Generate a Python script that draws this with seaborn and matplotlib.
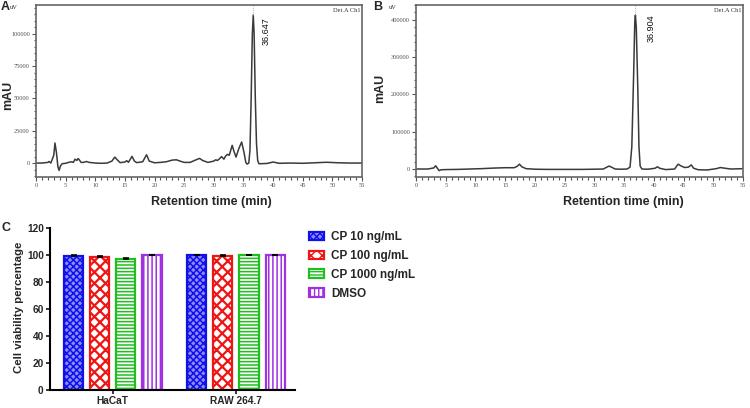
import numpy as np
import pandas as pd
import matplotlib
matplotlib.use("Agg")
import matplotlib.pyplot as plt
import seaborn as sns
from matplotlib.patches import Patch
from matplotlib.ticker import MultipleLocator, FuncFormatter

sns.set_theme(style="ticks")
plt.rcParams['font.family'] = ['Liberation Sans', 'DejaVu Sans']
plt.rcParams['hatch.linewidth'] = 1.0

# ---------------- Panel A chromatogram (uV) ----------------
time_a = [0, 1, 2, 2.2, 2.5, 3.0, 3.2, 3.45, 3.7, 3.9, 4.1, 4.4, 5, 5.5, 6, 6.3, 6.6,
          6.9, 7.1, 7.3, 7.6, 8, 8.5, 9, 10, 11, 12, 12.8, 13.3, 13.7, 14.2, 15, 15.3,
          15.6, 16.2, 16.6, 17, 18, 18.65, 19.1, 20, 21, 22, 23, 23.7, 24.3, 25, 26,
          26.5, 27, 27.6, 28.1, 29, 30, 30.3, 30.6, 31, 31.3, 31.7, 32.0, 32.3, 32.6,
          33.1, 33.4, 33.75, 34.2, 34.7, 35.1, 35.4, 35.6, 35.9, 36.1, 36.3, 36.5,
          36.65, 36.8, 37.0, 37.2, 37.4, 37.6, 38, 39, 40, 41, 43, 45, 47, 49, 51, 53, 55]
signal_a = [0, 0, 500, 1200, 0, 6000, 15500, 8000, -3000, -5700, -2500, -500, -200, 500,
            1000, 500, 3000, 2000, 3500, 2500, 500, 500, 1200, 500, 0, -200, 0, 1500,
            4600, 2500, 300, 800, 1800, 600, 5200, 1500, 300, 1000, 6400, 1500, 200, 500,
            1000, 2300, 2500, 1500, 500, 500, 1500, 2500, 3600, 2000, 500, 1500, 2500,
            2000, 3500, 5000, 3000, 5500, 6700, 6000, 13700, 9000, 4600, 11000, 16300,
            8000, 500, -800, 0, 10000, 50000, 100000, 114500, 100000, 50000, 15000, 2000,
            -500, -500, -300, 800, -200, 0, -200, 200, 600, 200, 0, 0]
peak_time_a = 36.647
peak_height_a = 114500

# ---------------- Panel B chromatogram (uV) ----------------
time_b = [0, 2, 3.0, 3.3, 3.6, 3.9, 4.2, 5, 7, 9, 11, 13, 15, 16.5, 17.0, 17.4, 17.8,
          18.5, 20, 22, 25, 28, 30, 31.5, 32.1, 32.5, 33.0, 33.5, 34.5, 35.5, 36.0, 36.3,
          36.6, 36.8, 36.904, 37.05, 37.3, 37.5, 37.7, 38, 39, 40.2, 40.6, 41.0, 42, 43.5,
          43.9, 44.1, 44.6, 45.2, 45.8, 46.3, 46.7, 47.5, 49, 50.5, 51.2, 52, 53, 55]
signal_b = [0, 0, 3000, 8800, 2000, -4400, -2000, -1500, -1000, 0, 1000, 2500, 3500,
            3500, 7000, 13000, 6000, 1000, -500, -1000, -1000, -1000, -500, 0, 5000, 7900,
            4000, 0, -500, 0, 5000, 60000, 250000, 395000, 413000, 380000, 220000, 60000,
            8000, 0, -500, 2000, 6000, 2000, -1500, 0, 9000, 13000, 8000, 4000, 5000,
            11000, 2000, -2000, -2500, 1000, 4000, 2000, 0, 1000]
peak_time_b = 36.904
peak_height_b = 413000

# ---------------- Panel C bars ----------------
cell_lines = ["HaCaT", "RAW 264.7"]
treatments = ["CP 10 ng/mL", "CP 100 ng/mL", "CP 1000 ng/mL", "DMSO"]
viability_hacat = [99.6, 98.6, 97.4, 100.0]
viability_raw = [100.0, 99.4, 100.0, 100.0]
error_hacat = [0.3, 0.5, 0.4, 0.3]
error_raw = [0.3, 0.3, 0.3, 0.3]

edge_colors = ["#1010e8", "#ee1515", "#1fbf1f", "#a030e0"]
face_colors = ["#8c8cff", "white", "white", "white"]
hatches = ["xxxxx", "xxx", "-----", "||||"]

fig = plt.figure(figsize=(7.5, 4.08), dpi=100)
W, H = 750, 408


def chrom_axes(ax, t, s, ylim, ymaj, ymin, peak_t, peak_h, ptext, ptext_xy, mau_x, mau_y, xlab_x):
    sns.lineplot(x=t, y=s, ax=ax, color="#3a3a3a", linewidth=1.1, sort=False, estimator=None)
    ax.set_xlim(0, 55)
    ax.set_ylim(*ylim)
    ax.xaxis.set_major_locator(MultipleLocator(5))
    ax.xaxis.set_minor_locator(MultipleLocator(1))
    ax.yaxis.set_major_locator(MultipleLocator(ymaj))
    ax.yaxis.set_minor_locator(MultipleLocator(ymin))
    ax.yaxis.set_major_formatter(FuncFormatter(lambda v, p: f"{v:.0f}"))
    ax.tick_params(which='both', direction='out', colors='#555555', labelsize=4.6,
                   labelfontfamily='Liberation Serif', pad=1.5, width=0.8)
    ax.tick_params(which='major', length=3)
    ax.tick_params(which='minor', length=1.8)
    for sp in ax.spines.values():
        sp.set_color('#666666')
        sp.set_linewidth(1.2)
    ax.set_xlabel("")
    ax.set_ylabel("")
    ax.plot([peak_t, peak_t], [peak_h, ylim[1]], color='#999999', lw=0.6, ls=':')
    ax.text(ptext_xy[0], ptext_xy[1], ptext, rotation=90, ha='center', va='top',
            fontsize=6.5, color='#111111')
    ax.text(0.995, 0.985, "Det.A Ch1", transform=ax.transAxes, ha='right', va='top',
            fontsize=4.6, family='Liberation Serif', color='#333333')
    ax.text(mau_x, mau_y, "mAU", transform=ax.transAxes, rotation=90, ha='center',
            va='center', fontsize=9, fontweight='bold')
    ax.text(xlab_x, -0.11, "Retention time (min)", transform=ax.transAxes, ha='center',
            va='top', fontsize=9, fontweight='bold')


axA = fig.add_axes([36 / W, 1 - 177 / H, (362 - 36) / W, 172 / H])
chrom_axes(axA, time_a, signal_a, (-10800, 122300), 25000, 5000, peak_time_a, peak_height_a,
           "36.647", (38.8, 112500), (8 - 36) / 326, (177 - 95) / 172, (211 - 36) / 326)

axB = fig.add_axes([416 / W, 1 - 177 / H, (743 - 416) / W, 172 / H])
chrom_axes(axB, time_b, signal_b, (-21400, 440000), 100000, 20000, peak_time_b, peak_height_b,
           "36.904", (39.6, 414000), (380 - 416) / 327, (177 - 88) / 172, (623 - 416) / 327)

fig.text(1 / W, 1 - 1 / H, "A", fontsize=9, fontweight='bold', va='top', ha='left')
fig.text(10 / W, 1 - 5 / H, "uV", fontsize=4.6, family='Liberation Serif', va='top', ha='left')
fig.text(373 / W, 1 - 1 / H, "B", fontsize=9, fontweight='bold', va='top', ha='left')
fig.text(389 / W, 1 - 5 / H, "uV", fontsize=4.6, family='Liberation Serif', va='top', ha='left')
fig.text(2 / W, 1 - 222 / H, "C", fontsize=9, fontweight='bold', va='top', ha='left')

# ---------------- Panel C ----------------
df = pd.DataFrame({
    "cell": [c for c in cell_lines for _ in treatments],
    "treatment": treatments * 2,
    "viability": viability_hacat + viability_raw,
    "err": error_hacat + error_raw,
})
axC = fig.add_axes([50 / W, 1 - 390 / H, (295 - 50) / W, 162 / H])
sns.barplot(data=df, x="cell", y="viability", hue="treatment", hue_order=treatments,
            order=cell_lines, palette=edge_colors, width=0.85, gap=0.27, errorbar=None,
            legend=False, ax=axC)
bar_containers = list(axC.containers)
for i, cont in enumerate(bar_containers):
    for j, bar in enumerate(cont.patches):
        bar.set_facecolor(face_colors[i])
        bar.set_edgecolor(edge_colors[i])
        bar.set_hatch(hatches[i])
        bar.set_linewidth(1.6)
        if hasattr(bar, "set_hatch_linewidth"):
            bar.set_hatch_linewidth(1.6 if i == 1 else 1.1)
        sub = df[(df.treatment == treatments[i]) & (df.cell == cell_lines[j])]
        e = float(sub.err.iloc[0])
        axC.errorbar(bar.get_x() + bar.get_width() / 2, bar.get_height(),
                     yerr=[[0], [e]], color='black', capsize=2.5, elinewidth=1.2,
                     capthick=1.2, zorder=5)

axC.set_ylim(0, 120)
axC.set_xlim(-0.51, 1.48)
axC.yaxis.set_major_locator(MultipleLocator(20))
axC.set_xlabel("")
axC.set_ylabel("")
axC.text(-0.125, 0.51, "Cell viability percentage", transform=axC.transAxes, rotation=90,
         ha='center', va='center', fontsize=8.2, fontweight='bold')
sns.despine(ax=axC)
for sp in ['left', 'bottom']:
    axC.spines[sp].set_linewidth(1.5)
    axC.spines[sp].set_color('black')
axC.tick_params(direction='out', length=3, width=1.3, labelsize=7.3, pad=1.5)
for lbl in axC.get_xticklabels() + axC.get_yticklabels():
    lbl.set_fontweight('bold')

handles = [Patch(facecolor=face_colors[i], edgecolor=edge_colors[i], hatch=hatches[i],
                 linewidth=1.6, label=treatments[i]) for i in range(4)]
fig.legend(handles=handles, loc='upper left', bbox_to_anchor=(309 / W, 1 - 231 / H),
           frameon=False, prop={'weight': 'bold', 'size': 8.5}, handlelength=1.25,
           handleheight=0.7, labelspacing=0.58, handletextpad=0.65, borderaxespad=0,
           borderpad=0)

fig.savefig("out.png", dpi=100)
